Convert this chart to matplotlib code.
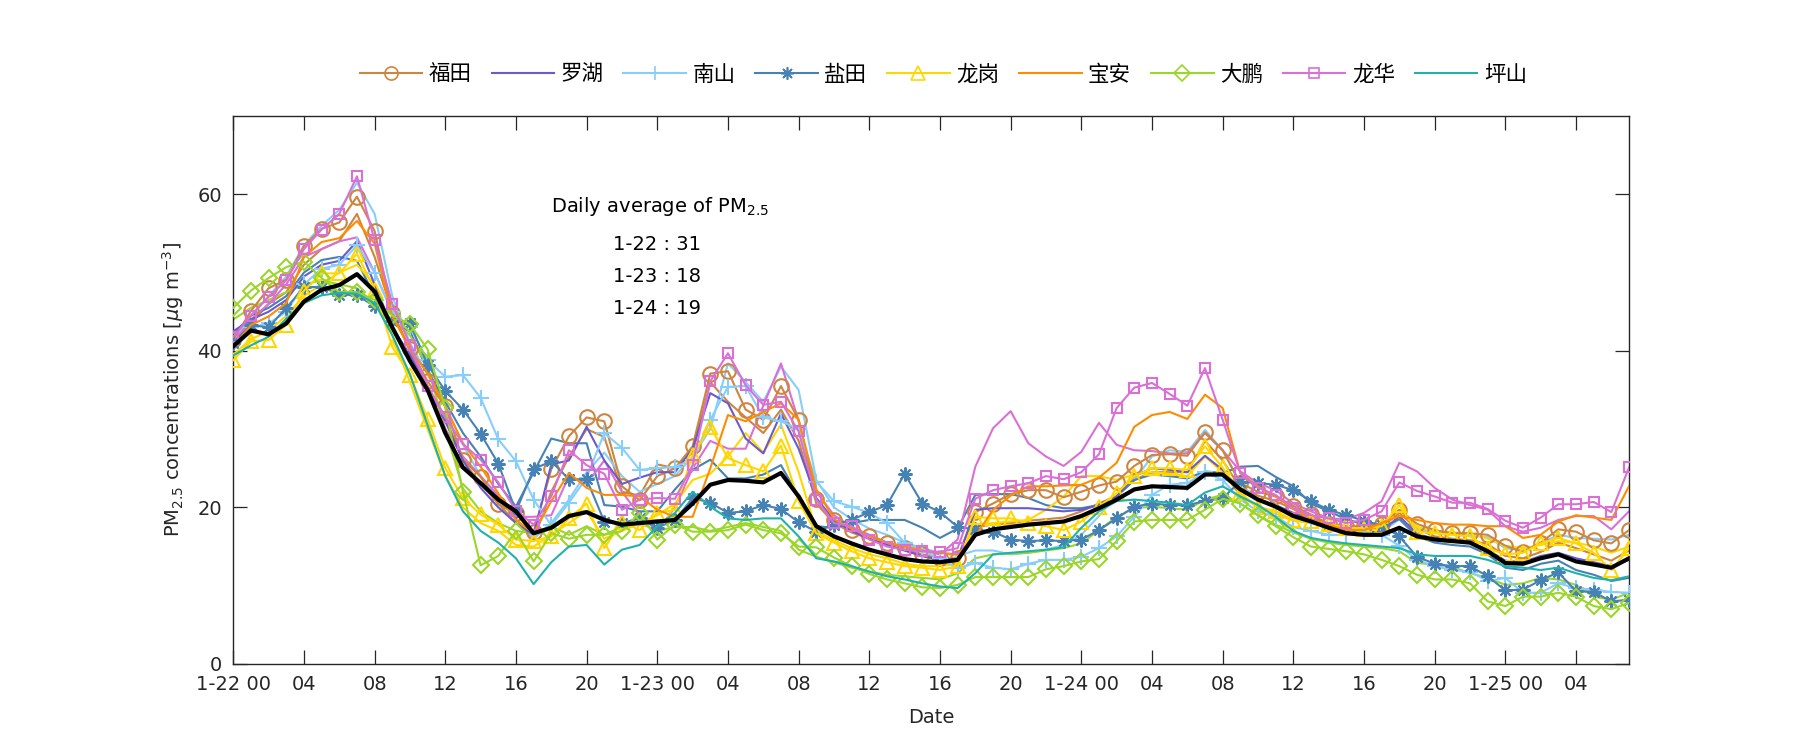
import numpy as np
import matplotlib
matplotlib.use("Agg")
import matplotlib.pyplot as plt
from matplotlib.lines import Line2D

plt.rcParams['font.family'] = ['DejaVu Sans', 'Noto Sans CJK SC']
plt.rcParams['mathtext.fontset'] = 'dejavusans'

hours = np.arange(80)
tick_pos = list(range(0, 80, 4))
tick_labels = ['1-22 00', '04', '08', '12', '16', '20', '1-23 00', '04', '08', '12', '16', '20',
               '1-24 00', '04', '08', '12', '16', '20', '1-25 00', '04']

districts = ['福田', '罗湖', '南山', '盐田', '龙岗', '宝安', '大鹏', '龙华', '坪山']

futian = [41.4, 45.1, 48.0, 49.1, 53.4, 55.6, 56.4, 59.7, 55.3, 44.9, 40.3, 36.1, 32.9, 26.1, 23.9, 20.4, 19.3, 16.8, 24.9, 29.1,
          31.5, 31.0, 22.7, 20.9, 24.0, 25.0, 27.8, 37.1, 37.4, 32.5, 31.2, 35.5, 31.2, 21.1, 18.4, 17.1, 16.4, 15.5, 14.8, 14.0,
          13.5, 13.5, 19.4, 20.5, 21.7, 22.2, 22.2, 21.3, 22.0, 22.8, 23.3, 25.3, 26.7, 26.8, 26.6, 29.6, 27.3, 23.1, 22.0, 21.4,
          20.2, 19.1, 17.9, 17.6, 17.6, 17.9, 19.7, 17.9, 17.1, 16.7, 16.7, 16.5, 15.1, 14.3, 15.5, 17.2, 16.9, 15.8, 15.4, 17.1]
futian_b = [41.0, 43.5, 46.0, 47.5, 51.0, 53.0, 54.0, 57.5, 52.0, 45.0, 40.0, 35.5, 31.5, 26.0, 23.0, 20.5, 18.0, 16.0, 22.0, 26.5,
            30.0, 29.0, 22.0, 21.5, 25.5, 25.0, 27.0, 36.0, 33.5, 31.5, 29.5, 32.5, 28.5, 20.5, 18.0, 16.8, 16.0, 15.2, 14.5, 13.8,
            13.2, 13.0, 17.5, 17.8, 18.0, 18.3, 18.5, 18.7, 19.5, 20.5, 21.5, 23.5, 24.5, 24.5, 24.5, 28.5, 26.0, 22.5, 21.5, 20.8,
            19.8, 18.8, 17.8, 17.3, 17.0, 17.5, 19.3, 17.3, 16.3, 16.0, 15.8, 15.3, 13.8, 13.5, 14.3, 15.5, 14.8, 14.0, 13.2, 14.5]
luohu = [42.5, 44.0, 45.0, 46.5, 49.5, 51.0, 51.5, 54.0, 48.5, 43.0, 39.5, 35.0, 31.0, 26.0, 22.5, 20.0, 18.0, 16.5, 25.5, 26.0,
         30.3, 26.0, 23.0, 23.8, 24.5, 24.5, 27.5, 34.6, 33.3, 28.8, 26.9, 32.0, 27.5, 21.2, 18.3, 17.0, 16.0, 15.2, 14.5, 13.8,
         13.3, 13.4, 19.7, 19.9, 19.9, 19.9, 19.7, 19.5, 19.7, 20.3, 21.4, 24.0, 25.0, 24.8, 24.5, 26.6, 24.8, 22.2, 21.0, 20.3,
         19.3, 18.5, 17.6, 17.0, 16.8, 16.9, 18.9, 16.6, 16.0, 15.8, 15.5, 14.6, 13.2, 13.0, 13.8, 14.2, 13.5, 13.0, 12.5, 13.3]
nanshan = [41.0, 43.0, 43.5, 45.0, 48.5, 50.5, 51.0, 53.5, 50.0, 45.0, 43.0, 38.8, 36.7, 36.9, 34.0, 28.7, 25.9, 21.0, 17.7, 20.6,
           23.8, 29.5, 27.6, 24.8, 25.0, 25.2, 26.1, 31.2, 35.4, 35.5, 31.5, 31.0, 30.0, 23.3, 20.8, 20.1, 19.3, 18.0, 15.5, 14.4,
           13.5, 12.2, 12.9, 12.3, 12.1, 12.8, 13.3, 13.3, 13.7, 14.8, 16.3, 18.8, 21.6, 22.9, 23.1, 24.5, 23.5, 21.0, 19.5, 18.8,
           17.5, 17.0, 16.5, 16.5, 16.8, 16.5, 15.1, 13.3, 12.5, 12.0, 11.8, 10.6, 11.0, 9.1, 9.1, 10.3, 9.7, 9.5, 9.2, 9.1]
nanshan_b = [41.0, 44.5, 47.0, 49.5, 53.5, 56.0, 58.0, 61.5, 57.5, 47.0, 41.0, 37.0, 33.0, 28.0, 24.0, 21.0, 18.5, 16.0, 18.0, 21.0,
             24.5, 27.0, 24.0, 22.0, 23.0, 24.0, 26.5, 30.0, 38.4, 36.0, 33.5, 38.0, 35.0, 23.5, 20.0, 18.5, 17.3, 16.5, 15.5, 14.8,
             14.2, 13.8, 14.5, 14.5, 14.0, 14.2, 14.6, 15.2, 16.5, 18.9, 21.6, 23.5, 26.5, 27.3, 27.1, 29.9, 27.3, 23.0, 21.0, 20.2,
             19.0, 18.4, 17.6, 17.0, 16.6, 16.8, 18.5, 17.2, 16.9, 16.6, 16.4, 16.2, 14.8, 14.5, 15.4, 16.5, 16.1, 16.0, 15.9, 16.5]
yantian = [41.0, 43.3, 43.0, 45.5, 48.1, 48.2, 47.2, 47.1, 45.7, 43.8, 43.5, 38.2, 34.9, 32.5, 29.4, 25.6, 19.5, 24.9, 25.9, 23.6,
           23.6, 18.2, 18.0, 18.6, 17.4, 18.4, 21.2, 20.6, 19.3, 19.5, 20.3, 19.8, 18.1, 16.9, 17.8, 18.4, 19.4, 20.3, 24.3, 20.5,
           19.4, 17.5, 17.2, 16.9, 15.9, 15.7, 15.8, 15.7, 15.9, 17.1, 18.6, 20.1, 20.5, 20.3, 20.3, 20.8, 21.2, 23.3, 23.1, 22.9,
           22.2, 20.8, 19.7, 19.0, 18.3, 17.7, 16.3, 13.7, 12.8, 12.5, 12.5, 11.2, 9.4, 9.5, 10.7, 11.7, 9.3, 9.2, 8.0, 8.2]
yantian_b = [42.0, 44.5, 45.5, 47.0, 50.0, 51.6, 52.0, 51.5, 47.0, 43.5, 42.5, 37.5, 33.5, 29.5, 26.5, 23.0, 20.1, 24.5, 28.8, 28.2,
             28.2, 20.3, 20.1, 19.5, 19.5, 22.3, 24.8, 26.1, 23.7, 23.7, 24.2, 25.4, 21.4, 17.6, 17.4, 18.0, 18.4, 18.4, 18.4, 17.4,
             16.1, 17.3, 21.6, 21.7, 21.7, 21.2, 20.3, 19.9, 19.9, 20.3, 21.4, 23.5, 24.2, 24.0, 23.7, 24.6, 24.4, 25.2, 25.3, 23.9,
             22.7, 20.5, 19.5, 18.5, 17.8, 17.4, 18.5, 16.3, 15.5, 15.2, 15.0, 14.0, 12.3, 12.0, 12.8, 13.2, 12.0, 11.4, 10.6, 11.0]
longgang = [38.8, 41.2, 41.4, 43.3, 47.7, 49.9, 49.9, 52.4, 47.8, 40.5, 36.9, 31.3, 25.0, 21.2, 19.1, 17.8, 15.9, 15.7, 16.3, 18.6,
            20.5, 14.8, 18.2, 17.1, 19.3, 19.7, 26.7, 30.3, 26.3, 25.4, 24.6, 27.9, 20.8, 16.7, 15.5, 14.4, 13.5, 13.0, 12.5, 12.3,
            12.0, 12.5, 18.8, 18.6, 18.6, 18.0, 17.6, 17.1, 18.2, 20.1, 21.8, 24.0, 25.0, 25.0, 24.8, 27.8, 25.1, 21.8, 20.1, 19.5,
            18.4, 18.3, 17.9, 17.4, 17.3, 17.6, 20.3, 16.9, 16.7, 16.5, 16.3, 14.8, 14.0, 14.2, 15.4, 16.1, 15.4, 14.2, 12.0, 14.8]
longgang_b = [39.5, 41.5, 42.5, 44.5, 47.0, 48.5, 50.0, 51.0, 48.5, 42.0, 36.0, 30.0, 24.0, 20.0, 18.0, 17.0, 15.2, 15.0, 16.5, 18.0,
              19.5, 16.0, 17.0, 18.0, 19.0, 20.5, 23.5, 24.3, 26.5, 29.5, 27.0, 30.6, 24.5, 17.0, 15.8, 14.8, 14.0, 13.5, 12.8, 12.5,
              12.5, 12.8, 17.8, 18.0, 18.2, 18.4, 19.7, 21.4, 24.0, 24.0, 23.5, 24.2, 24.5, 24.3, 24.0, 26.5, 24.5, 21.5, 20.0, 19.2,
              18.3, 18.0, 17.5, 17.0, 16.9, 17.3, 19.7, 17.5, 17.0, 16.8, 16.7, 16.0, 15.1, 14.8, 15.2, 15.7, 15.5, 15.0, 14.2, 15.0]
baoan = [40.5, 43.3, 44.4, 46.1, 52.0, 53.9, 54.4, 56.6, 53.7, 44.4, 40.3, 37.1, 32.9, 28.2, 25.2, 21.8, 18.4, 16.7, 20.8, 24.4,
         22.5, 21.6, 21.6, 21.4, 19.7, 18.8, 18.8, 25.0, 31.8, 31.0, 32.2, 33.3, 31.2, 22.3, 18.5, 17.3, 16.3, 15.5, 15.0, 14.5,
         14.2, 14.0, 16.3, 19.7, 21.5, 22.7, 22.7, 22.8, 22.9, 23.8, 25.7, 30.3, 31.8, 32.2, 31.3, 34.4, 32.7, 24.4, 22.7, 21.4,
         19.8, 18.4, 17.8, 17.1, 17.1, 18.0, 18.9, 18.4, 18.0, 17.8, 17.8, 17.6, 17.6, 16.1, 16.5, 18.2, 19.0, 18.7, 18.4, 22.7]
dapeng = [45.5, 47.7, 49.3, 50.7, 51.4, 49.3, 47.5, 47.5, 46.5, 44.5, 43.4, 40.2, 32.7, 22.0, 12.6, 13.8, 17.0, 13.1, 16.7, 16.0,
          16.5, 16.5, 17.0, 19.3, 15.9, 17.8, 16.9, 16.9, 17.1, 17.8, 17.1, 16.7, 15.0, 14.9, 13.6, 12.5, 11.5, 10.8, 10.3, 9.8,
          9.7, 10.1, 11.1, 11.1, 11.1, 11.1, 12.1, 12.5, 13.1, 13.4, 15.7, 18.2, 18.4, 18.4, 18.4, 19.7, 21.1, 20.5, 19.0, 17.6,
          16.2, 15.0, 14.7, 14.4, 14.0, 13.3, 12.5, 11.4, 10.8, 10.8, 10.3, 8.0, 7.4, 8.6, 8.6, 9.1, 8.6, 7.4, 7.0, 7.8]
dapeng_b = [44.0, 45.5, 46.5, 47.5, 48.5, 49.0, 48.5, 48.0, 46.0, 44.0, 42.0, 38.0, 30.0, 22.4, 19.5, 18.0, 17.0, 16.7, 17.6, 16.5,
            17.6, 16.5, 17.5, 18.0, 17.0, 17.5, 17.5, 17.0, 17.5, 18.0, 17.5, 17.0, 14.6, 13.7, 13.0, 12.3, 11.8, 11.4, 11.2, 11.0,
            10.8, 11.6, 13.5, 14.0, 14.1, 14.2, 14.5, 14.8, 15.4, 17.1, 18.8, 19.9, 20.1, 19.9, 19.7, 21.0, 21.6, 20.5, 19.0, 17.8,
            16.8, 16.0, 15.5, 15.2, 15.0, 14.8, 14.4, 12.9, 12.7, 12.4, 11.6, 11.0, 10.1, 10.3, 11.0, 10.8, 10.1, 8.6, 8.2, 9.1]
longhua = [41.8, 44.5, 46.9, 49.0, 53.0, 55.5, 57.5, 62.3, 54.1, 46.0, 40.8, 35.5, 31.5, 28.1, 26.1, 23.2, 19.6, 17.8, 21.4, 27.3,
           25.4, 24.3, 19.7, 21.0, 21.2, 21.1, 25.4, 36.1, 39.7, 35.6, 33.1, 33.5, 29.7, 21.0, 18.0, 17.6, 15.9, 15.0, 14.6, 14.4,
           14.3, 14.8, 21.1, 22.2, 22.7, 23.1, 24.0, 23.6, 24.5, 26.8, 32.7, 35.3, 35.9, 34.5, 33.0, 37.8, 31.2, 24.4, 22.5, 21.6,
           19.9, 19.0, 18.6, 18.0, 18.4, 19.5, 23.2, 22.1, 21.4, 20.6, 20.6, 19.8, 18.3, 17.4, 18.7, 20.4, 20.4, 20.7, 19.4, 25.1]
longhua_b = [41.0, 44.0, 46.0, 48.5, 52.0, 53.0, 54.0, 54.5, 50.0, 45.0, 40.0, 35.0, 30.0, 26.5, 24.0, 21.5, 18.8, 18.8, 19.0, 24.0,
             23.0, 26.0, 22.0, 19.0, 17.0, 20.0, 25.0, 28.5, 27.5, 27.5, 33.0, 38.4, 31.0, 22.0, 19.0, 17.5, 16.5, 15.5, 15.0, 14.5,
             14.0, 15.9, 25.2, 30.1, 32.3, 28.2, 26.5, 25.3, 27.1, 30.8, 28.0, 27.3, 27.2, 26.9, 26.9, 29.5, 27.3, 24.6, 23.1, 22.2,
             20.5, 19.5, 18.6, 18.5, 19.3, 20.8, 25.7, 24.6, 22.5, 21.0, 20.3, 19.7, 17.6, 16.9, 17.4, 18.4, 18.9, 18.9, 17.2, 19.5]
pingshan = [39.4, 40.7, 41.8, 44.1, 46.1, 47.1, 47.4, 47.3, 46.1, 42.0, 37.0, 30.5, 24.0, 19.5, 17.0, 15.5, 13.5, 10.2, 13.0, 15.0,
            15.2, 12.7, 14.6, 15.2, 17.6, 19.3, 22.0, 20.1, 18.6, 18.4, 18.6, 18.6, 16.3, 13.5, 13.1, 12.5, 11.8, 11.2, 10.8, 10.3,
            9.9, 9.7, 11.6, 14.0, 14.2, 14.4, 14.6, 14.9, 17.4, 19.5, 20.8, 21.0, 20.8, 20.6, 20.3, 21.9, 22.7, 21.4, 20.3, 18.8,
            17.0, 16.1, 15.7, 15.4, 15.2, 15.0, 14.8, 14.0, 13.8, 13.8, 13.8, 13.3, 12.5, 12.3, 12.0, 12.3, 11.6, 11.0, 10.7, 11.2]
average = [40.6, 42.6, 42.1, 43.5, 46.3, 47.8, 48.4, 49.8, 47.6, 43.0, 38.7, 35.0, 29.5, 25.1, 23.1, 21.0, 19.5, 16.7, 17.4, 18.9,
           19.4, 18.4, 17.8, 18.0, 18.2, 18.4, 20.5, 22.9, 23.5, 23.4, 23.2, 24.4, 21.4, 17.6, 16.3, 15.4, 14.6, 14.0, 13.4, 13.1,
           13.0, 13.3, 16.5, 17.2, 17.5, 17.8, 18.0, 18.2, 18.9, 19.9, 21.0, 22.3, 22.7, 22.6, 22.5, 24.2, 24.2, 22.3, 21.0, 20.1,
           18.9, 18.2, 17.4, 16.7, 16.5, 16.5, 17.4, 16.3, 15.9, 15.7, 15.5, 14.4, 12.9, 12.8, 13.5, 14.0, 13.1, 12.7, 12.3, 13.5]

daily_avg_days = ['1-22', '1-23', '1-24']
daily_avg_vals = [31, 18, 19]

colors = {'福田': '#CD853F', '罗湖': '#6A5ACD', '南山': '#87CEFA', '盐田': '#4682B4', '龙岗': '#FFD700',
          '宝安': '#FF8C00', '大鹏': '#9BD62A', '龙华': '#DA70D6', '坪山': '#20B2AA'}
markers = {'福田': ('o', 10.5), '罗湖': (None, 0), '南山': ('+', 11), '盐田': ((8, 2, 0), 10), '龙岗': ('^', 10.5),
           '宝安': (None, 0), '大鹏': ('D', 8.5), '龙华': ('s', 7.5), '坪山': (None, 0)}

main_series = {'福田': futian, '罗湖': luohu, '南山': nanshan, '盐田': yantian, '龙岗': longgang,
               '宝安': baoan, '大鹏': dapeng, '龙华': longhua, '坪山': pingshan}
second_series = {'福田': futian_b, '南山': nanshan_b, '盐田': yantian_b, '龙岗': longgang_b,
                 '大鹏': dapeng_b, '龙华': longhua_b}

fig = plt.figure(figsize=(18, 7.5), dpi=100)
ax = fig.add_axes([0.1296, 0.1147, 0.7754, 0.7306])

lw = 1.5
for name in districts:
    if name in second_series:
        ax.plot(hours, second_series[name], color=colors[name], lw=lw, zorder=2)
for name in districts:
    m, ms = markers[name]
    ax.plot(hours, main_series[name], color=colors[name], lw=lw, marker=m, ms=ms,
            mfc='none', mec=colors[name], mew=1.5, zorder=3)
ax.plot(hours, average, color='black', lw=3.0, zorder=4)

ax.set_xlim(0, 79)
ax.set_ylim(0, 70)
ax.set_xticks(tick_pos)
ax.set_xticklabels(tick_labels)
ax.set_yticks([0, 20, 40, 60])
ax.tick_params(direction='in', length=10, width=0.9, top=True, right=True,
               labelsize=14, colors='#262626', pad=8)
for sp in ax.spines.values():
    sp.set_linewidth(1.0)
    sp.set_color('#262626')

ax.set_xlabel('Date', fontsize=14, color='#262626', labelpad=10)
ax.set_ylabel(r'PM$_{2.5}$ concentrations [$\mu$g m$^{-3}$]', fontsize=14, color='#262626', labelpad=8)

ax.text(18.0, 58.4, r'Daily average of PM$_{2.5}$', fontsize=14, color='black', va='center', ha='left')
for i, (d, v) in enumerate(zip(daily_avg_days, daily_avg_vals)):
    ax.text(21.5, 53.6 - i * 4.1, f'{d} : {v}', fontsize=14, color='black', va='center', ha='left')

handles = []
for name in districts:
    m, ms = markers[name]
    handles.append(Line2D([], [], color=colors[name], lw=lw, marker=m, ms=ms * 0.9 if m else 0,
                          mfc='none', mec=colors[name], mew=1.2))
fig.legend(handles, districts, loc='center', bbox_to_anchor=(0.524, 0.900), ncol=9, frameon=False,
           handlelength=2.9, handletextpad=0.3, columnspacing=0.93,
           prop={'family': ['Noto Sans CJK SC'], 'size': 15.5})

fig.savefig('out.png', dpi=100)
